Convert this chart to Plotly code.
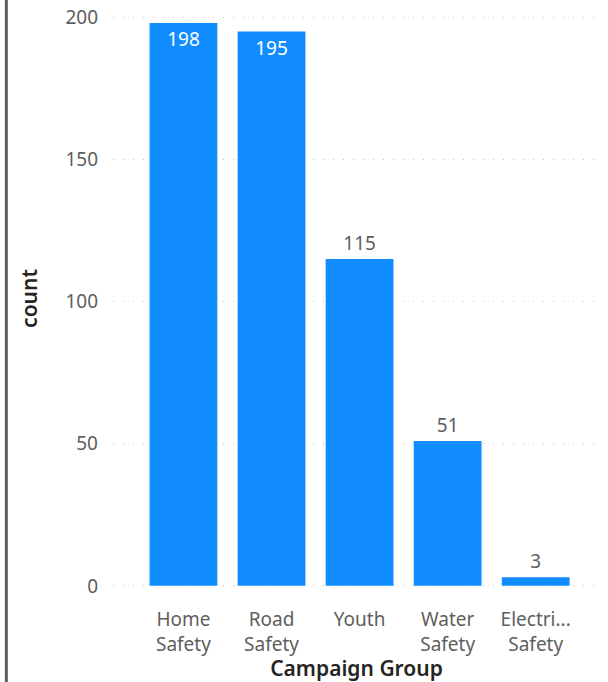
import plotly.graph_objects as go

categories = ["Home<br>Safety", "Road<br>Safety", "Youth", "Water<br>Safety", "Electri...<br>Safety"]
counts = [198, 195, 115, 51, 3]
label_positions = ["inside", "inside", "outside", "outside", "outside"]
y_ticks = [0, 50, 100, 150, 200]

FONT = "Noto Sans"
BAR = "#118DFF"
GRAY = "#605E5C"
DARK = "#252423"

fig = go.Figure(
    go.Bar(
        x=categories,
        y=counts,
        marker=dict(color=BAR, line=dict(width=0)),
        text=counts,
        textposition=label_positions,
        insidetextanchor="end",
        insidetextfont=dict(color="white", size=19, family=FONT),
        outsidetextfont=dict(color=GRAY, size=19, family=FONT),
        cliponaxis=False,
        width=0.77,
    )
)

fig.update_layout(
    width=608,
    height=682,
    margin=dict(l=113, r=8, t=10, b=95),
    plot_bgcolor="white",
    paper_bgcolor="white",
    showlegend=False,
    font=dict(family=FONT, color=GRAY, size=18),
    xaxis=dict(
        range=[-0.8, 4.73],
        automargin=False,
        showgrid=False,
        showline=False,
        zeroline=False,
        ticks="",
        tickfont=dict(size=19, color=GRAY, family=FONT),
        ticklabelstandoff=19,
        title=dict(text="Campaign Group", font=dict(size=21, color=DARK, family=FONT, weight=600), standoff=4),
    ),
    yaxis=dict(
        range=[-0.4, 202.6],
        automargin=False,
        tickvals=y_ticks,
        tickfont=dict(size=19, color=GRAY, family=FONT),
        showgrid=True,
        gridcolor="#C8C6C4",
        griddash="1px,9px",
        gridwidth=1,
        zeroline=False,
        showline=False,
        ticks="",
        ticklabelstandoff=14,
        title=dict(text="count", font=dict(size=21, color=DARK, family=FONT, weight=600), standoff=22),
    ),
    shapes=[
        dict(
            type="line",
            xref="paper",
            yref="paper",
            x0=-0.219,
            x1=-0.219,
            y0=-1,
            y1=2,
            line=dict(color="#5F5F5F", width=3),
        )
    ],
)

fig.write_html(
    "out.html",
    config={"displayModeBar": False},
    post_script="document.body.style.margin='0';",
)
